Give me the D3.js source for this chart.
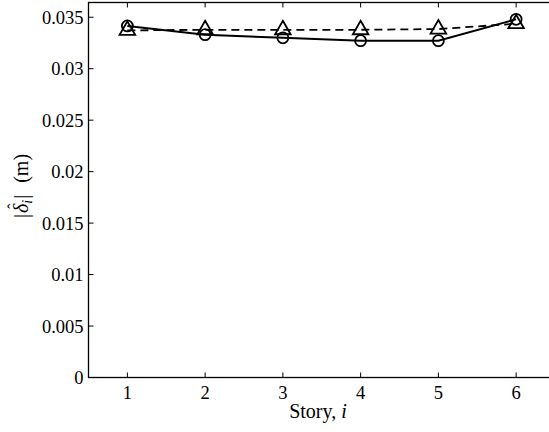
<!DOCTYPE html>
<html lang="en">
<head>
<meta charset="utf-8">
<title>Story drift</title>
<script src="https://d3js.org/d3.v7.min.js"></script>
<style>
  body { margin: 0; background: #fff; }
</style>
</head>
<body>
<script>
// story numbers
var stories = [1, 2, 3, 4, 5, 6];
// solid line, circle markers
var solidVals = [0.03415, 0.03330, 0.03300, 0.03272, 0.03272, 0.03480];
// dashed line, triangle markers
var dashedVals = [0.03372, 0.03378, 0.03378, 0.03378, 0.03385, 0.03437];
var yTicks = [0, 0.005, 0.01, 0.015, 0.02, 0.025, 0.03, 0.035];
var yTickLabels = ["0", "0.005", "0.01", "0.015", "0.02", "0.025", "0.03", "0.035"];

var w = 549, h = 432;
// plot box ("top" is taken on window, so pTop etc.)
var pLeft = 88.5, pRight = 555, pTop = 2.5, pBottom = 377.5;

var svg = d3.select("body").append("svg").attr("width", w).attr("height", h);

// pick a Times-like font that is really installed (compare widths against monospace)
function pickSerif() {
  var probe = svg.append("text").attr("font-size", "40px").text("Story 0.035 (m)");
  probe.attr("font-family", "monospace");
  var base = probe.node().getComputedTextLength();
  var cands = ["Liberation Serif", "Times New Roman", "Tinos", "Nimbus Roman", "FreeSerif", "Noto Serif", "DejaVu Serif"];
  var found = "serif";
  for (var i = 0; i < cands.length; i++) {
    probe.attr("font-family", "'" + cands[i] + "', monospace");
    if (Math.abs(probe.node().getComputedTextLength() - base) > 0.5) { found = "'" + cands[i] + "', serif"; break; }
  }
  probe.remove();
  return found;
}
var serif = pickSerif();

var x = d3.scaleLinear().domain([0.5, 6.5]).range([pLeft, pRight]);
var y = d3.scaleLinear().domain([0, 0.03643]).range([pBottom, pTop]);

// axes box
var g = svg.append("g");
g.append("rect")
  .attr("x", pLeft).attr("y", pTop)
  .attr("width", pRight - pLeft).attr("height", pBottom - pTop)
  .attr("fill", "none").attr("stroke", "#000").attr("stroke-width", 1.3);

// x ticks (inward) bottom and top
stories.forEach(function(s) {
  g.append("line").attr("x1", x(s)).attr("x2", x(s)).attr("y1", pBottom).attr("y2", pBottom - 5)
    .attr("stroke", "#000");
  g.append("line").attr("x1", x(s)).attr("x2", x(s)).attr("y1", pTop).attr("y2", pTop + 5)
    .attr("stroke", "#000");
  g.append("text").attr("x", x(s)).attr("y", pBottom + 21)
    .attr("font-family", serif)
    .attr("text-anchor", "middle").attr("font-size", "18.5px").text(s);
});

// y ticks
yTicks.forEach(function(t, i) {
  g.append("line").attr("x1", pLeft).attr("x2", pLeft + 5).attr("y1", y(t)).attr("y2", y(t))
    .attr("stroke", "#000");
  g.append("text").attr("x", pLeft - 5).attr("y", y(t) + 6.5)
    .attr("font-family", serif)
    .attr("text-anchor", "end").attr("font-size", "18.5px").text(yTickLabels[i]);
});

// x label
var xl = svg.append("text").attr("x", 318).attr("y", 418)
  .attr("font-family", serif)
  .attr("text-anchor", "middle").attr("font-size", "20px");
xl.append("tspan").text("Story, ");
xl.append("tspan").attr("font-style", "italic").text("i");

// y label, built piece by piece in a rotated group
var yg = svg.append("g")
  .attr("transform", "translate(28," + ((pTop + pBottom) / 2 - 4) + ") rotate(-90)");
var pieces = [
  {t: "|", size: 20, style: "normal", dy: 0, gap: 1},
  {t: "\u03b4", size: 20, style: "italic", dy: 0, gap: 0, hat: true},
  {t: "i", size: 14, style: "italic", dy: 4, gap: 1},
  {t: "|", size: 20, style: "normal", dy: 0, gap: 12},
  {t: "(m)", size: 20, style: "normal", dy: 0, gap: 0}
];
var cx = 0;
pieces.forEach(function(p) {
  var tx = yg.append("text").attr("x", cx).attr("y", p.dy)
    .attr("font-family", serif)
    .attr("font-size", p.size + "px").attr("font-style", p.style).text(p.t);
  var len = tx.node().getComputedTextLength();
  if (p.hat) {
    yg.append("text").attr("x", cx + len / 2 + 2).attr("y", -9)
      .attr("font-family", serif)
      .attr("text-anchor", "middle").attr("font-size", "16px").text("\u02c6");
  }
  cx += len + p.gap;
});
yg.selectAll("text").attr("transform", "translate(" + (-cx / 2) + ",0)");

var line = d3.line()
  .x(function(d, i) { return x(stories[i]); })
  .y(function(d) { return y(d); });

// dashed series
svg.append("path").datum(dashedVals)
  .attr("d", line).attr("fill", "none").attr("stroke", "#000")
  .attr("stroke-width", 1.8).attr("stroke-dasharray", "8,5");

// solid series
svg.append("path").datum(solidVals)
  .attr("d", line).attr("fill", "none").attr("stroke", "#000")
  .attr("stroke-width", 2);

// triangle markers
svg.selectAll(".tri").data(dashedVals).enter().append("path")
  .attr("class", "tri")
  .attr("d", d3.symbol().type(d3.symbolTriangle).size(105))
  .attr("transform", function(d, i) { return "translate(" + x(stories[i]) + "," + y(d) + ")"; })
  .attr("fill", "none").attr("stroke", "#000").attr("stroke-width", 1.8);

// circle markers
svg.selectAll(".circ").data(solidVals).enter().append("circle")
  .attr("class", "circ")
  .attr("cx", function(d, i) { return x(stories[i]); })
  .attr("cy", function(d) { return y(d); })
  .attr("r", 5.5)
  .attr("fill", "none").attr("stroke", "#000").attr("stroke-width", 1.8);
</script>
</body>
</html>
